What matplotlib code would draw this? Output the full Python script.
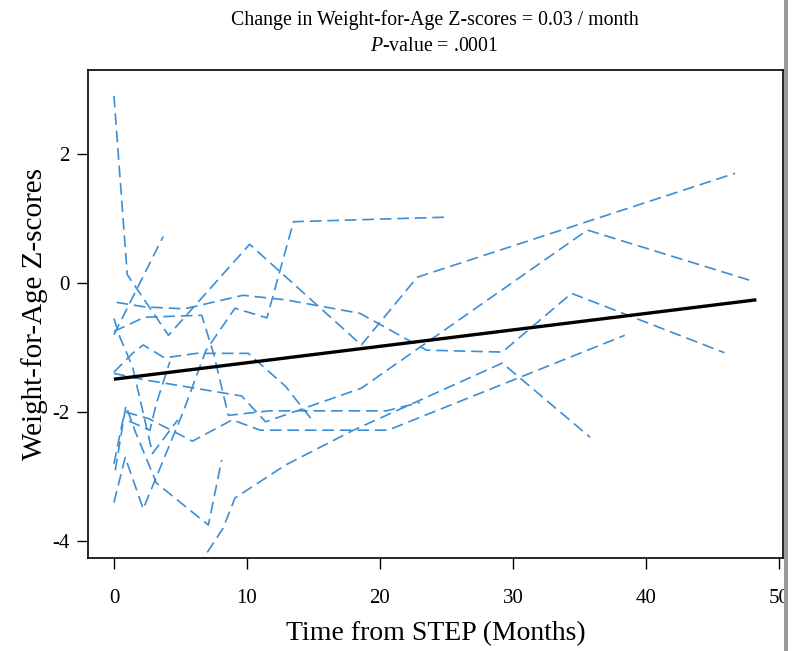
import matplotlib
matplotlib.use("Agg")
import matplotlib.pyplot as plt
from matplotlib.patches import Rectangle

# ======= ДАННЫЕ =======
# каждая траектория: месяцы от STEP и Z-score веса
traj_x = [
    [0, 1.0, 4.1, 10.2, 18.6, 22.8, 46.7],
    [0, 3.7],
    [0.2, 2.3, 5.3, 9.7, 12.9, 18.5, 23.5, 29.2, 34.4, 45.9],
    [0, 2.3, 6.6, 7.5, 8.6, 11.7, 20.5, 23.0],
    [0, 0.85, 2.2, 5.2, 6.9, 9.1, 11.5, 13.5, 25.0],
    [0, 1.4, 2.2, 3.8, 6.2, 10.1, 12.9, 15.0],
    [0, 2.3, 9.6, 11.4, 18.6, 35.6, 48.0],
    [0.9, 2.6, 5.9, 8.9, 11.0, 20.6, 38.4],
    [6.3, 8.2, 9.1, 12.9, 18.0, 29.2, 35.8],
    [0.1, 0.9, 1.6, 3.2, 7.1, 8.1],
    [0, 0.45, 1.4, 2.9, 4.8],
    [0, 0.7, 2.7, 3.2, 4.2],
]
traj_y = [
    [2.9, 0.13, -0.81, 0.6, -0.96, 0.09, 1.7],
    [-0.8, 0.72],
    [-0.3, -0.37, -0.4, -0.19, -0.26, -0.47, -1.04, -1.07, -0.16, -1.08],
    [-0.75, -0.53, -0.5, -1.1, -2.05, -1.98, -1.98, -1.85],
    [-3.4, -2.7, -3.5, -2.0, -1.05, -0.39, -0.54, 0.95, 1.02],
    [-1.38, -1.09, -0.96, -1.16, -1.09, -1.09, -1.6, -2.15],
    [-1.4, -1.5, -1.75, -2.15, -1.63, 0.82, 0.03],
    [-2.0, -2.1, -2.45, -2.12, -2.28, -2.28, -0.81],
    [-4.4, -3.8, -3.33, -2.82, -2.28, -1.24, -2.39],
    [-2.9, -1.9, -2.3, -3.1, -3.75, -2.74],
    [-0.55, -0.84, -1.3, -2.64, -2.12],
    [-2.8, -2.1, -2.28, -1.86, -1.22],
]
# линия тренда (смешанная модель)
fit_x = [0, 48.3]
fit_y = [-1.49, -0.26]

x_ticks = [0, 10, 20, 30, 40, 50]
y_ticks = [-4, -2, 0, 2]

# ======= ГРАФИК =======
plt.rcParams['font.family'] = ['Liberation Serif', 'DejaVu Serif']
plt.rcParams['axes.unicode_minus'] = False
plt.rcParams['mathtext.fontset'] = 'custom'
plt.rcParams['mathtext.rm'] = 'Liberation Serif'
plt.rcParams['mathtext.it'] = 'Liberation Serif:italic'

fig = plt.figure(figsize=(7.93, 6.51), dpi=100)
ax = fig.add_axes([88/793, 1 - 558/651, (783 - 88)/793, (558 - 70)/651])

for xs, ys in zip(traj_x, traj_y):
    ax.plot(xs, ys, color='#3b8ed6', linewidth=1.2, linestyle=(0, (7, 3.5)))
ax.plot(fit_x, fit_y, color='black', linewidth=2.4, solid_capstyle='butt')

ax.set_xlim(-1.95, 50.3)
ax.set_ylim(-4.26, 3.3)
ax.set_xticks(x_ticks)
ax.set_yticks(y_ticks)
ax.tick_params(direction='out', length=8, width=1, labelsize=15)
ax.tick_params(axis='x', pad=14)
ax.tick_params(axis='y', pad=5)
for s in ax.spines.values():
    s.set_linewidth(1.2)

ax.set_xlabel('Time from STEP (Months)', fontsize=20, labelpad=10)
ax.set_ylabel('Weight-for-Age Z-scores', fontsize=21, labelpad=3)

fig.text(0.548, 0.969, 'Change in Weight-for-Age Z-scores = 0.03 / month',
         ha='center', va='center', fontsize=14.3)
fig.text(0.548, 0.929, r'$\mathit{P}$-value = .0001', ha='center', va='center',
         fontsize=14.3)

# серая полоса по правому краю скана
fig.add_artist(Rectangle((784/793, 0), 4/793, 1, transform=fig.transFigure,
                         color='0.6', linewidth=0))

fig.savefig('out.png', dpi=100)
